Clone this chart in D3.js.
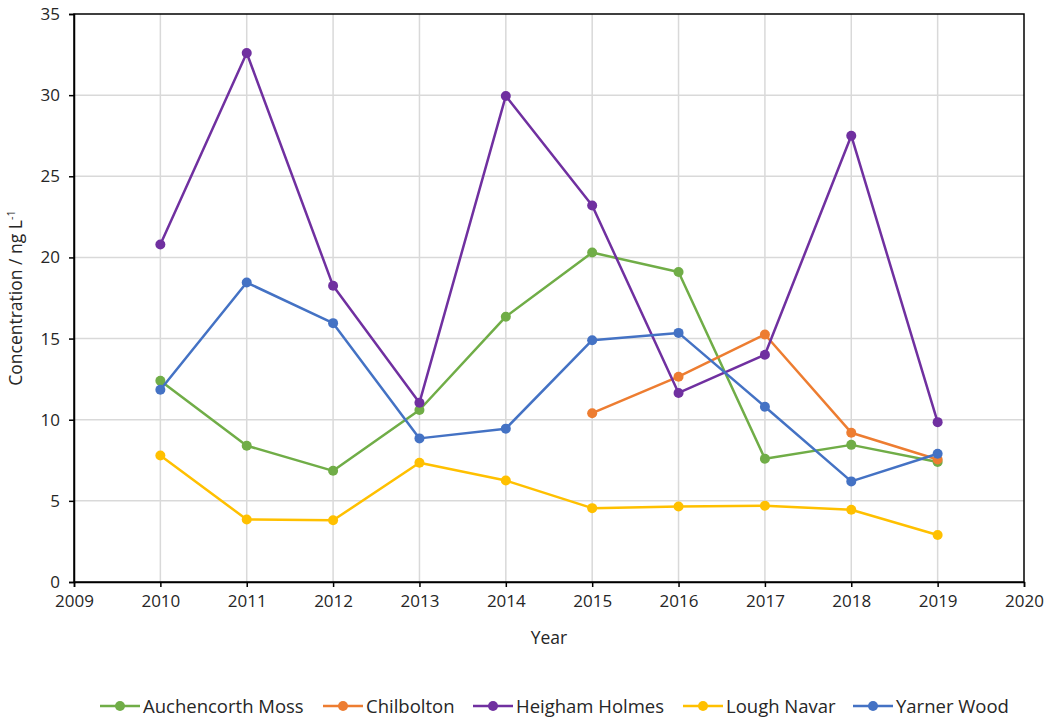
<!DOCTYPE html>
<html>
<head>
<meta charset="utf-8">
<script src="https://cdn.jsdelivr.net/npm/d3@7"></script>
<style>
  body { margin: 0; background: #fff; }
  text { font-family: "Open Sans", Lato, sans-serif; fill: #262626; }
</style>
</head>
<body>
<div id="graph"></div>
<script>
// data
const years = [2010, 2011, 2012, 2013, 2014, 2015, 2016, 2017, 2018, 2019];
const auchencorth = [12.4, 8.4, 6.85, 10.6, 16.35, 20.3, 19.1, 7.6, 8.45, 7.4];
const chilbolton = [null, null, null, null, null, 10.4, 12.65, 15.25, 9.2, 7.55];
const heigham = [20.8, 32.6, 18.25, 11.05, 29.95, 23.2, 11.65, 14.0, 27.5, 9.85];
const loughNavar = [7.8, 3.85, 3.8, 7.35, 6.25, 4.55, 4.65, 4.7, 4.45, 2.9];
const yarner = [11.85, 18.45, 15.95, 8.85, 9.45, 14.9, 15.35, 10.8, 6.2, 7.9];
const xTicks = [2009, 2010, 2011, 2012, 2013, 2014, 2015, 2016, 2017, 2018, 2019, 2020];
const yTicks = [0, 5, 10, 15, 20, 25, 30, 35];

const series = [
  {name: "Auchencorth Moss", values: auchencorth, color: "#70ad47"},
  {name: "Chilbolton", values: chilbolton, color: "#ed7d31"},
  {name: "Heigham Holmes", values: heigham, color: "#7030a0"},
  {name: "Lough Navar", values: loughNavar, color: "#ffc000"},
  {name: "Yarner Wood", values: yarner, color: "#4472c4"}
];

const margin = {top: 14, right: 27, bottom: 138, left: 74},
    width = 1051 - margin.left - margin.right,
    height = 720 - margin.top - margin.bottom;

const svg = d3.select("#graph")
  .append("svg")
    .attr("width", 1051)
    .attr("height", 720)
  .append("g")
    .attr("transform", `translate(${margin.left},${margin.top})`);

const x = d3.scaleLinear().domain([2009, 2020]).range([0, width]);
const y = d3.scaleLinear().domain([0, 35]).range([height, 0]);

// gridlines
svg.append("g")
  .selectAll("line.vg")
  .data(xTicks.slice(1, -1))
  .join("line")
    .attr("x1", d => x(d)).attr("x2", d => x(d))
    .attr("y1", 0).attr("y2", height)
    .attr("stroke", "#d9d9d9").attr("stroke-width", 1.5);
svg.append("g")
  .selectAll("line.hg")
  .data(yTicks.slice(1, -1))
  .join("line")
    .attr("x1", 0).attr("x2", width)
    .attr("y1", d => y(d)).attr("y2", d => y(d))
    .attr("stroke", "#d9d9d9").attr("stroke-width", 1.5);

// frame
svg.append("rect")
  .attr("width", width).attr("height", height)
  .attr("fill", "none").attr("stroke", "#000").attr("stroke-width", 1.5);

// axes
const xAxis = svg.append("g")
  .attr("transform", `translate(0,${height})`)
  .call(d3.axisBottom(x).tickValues(xTicks).tickFormat(d3.format("d")).tickSize(5).tickPadding(8));
const yAxis = svg.append("g")
  .call(d3.axisLeft(y).tickValues(yTicks).tickSize(5).tickPadding(9));
[xAxis, yAxis].forEach(a => {
  a.select(".domain").attr("stroke", "#000").attr("stroke-width", 1.5);
  a.selectAll(".tick line").attr("stroke", "#000").attr("stroke-width", 1.5);
  a.selectAll("text").style("font-size", "17px").attr("fill", "#262626");
});

// lines and markers
const line = d3.line()
  .defined(d => d.v !== null)
  .x(d => x(d.year))
  .y(d => y(d.v));

series.forEach(s => {
  const pts = years.map((yr, i) => ({year: yr, v: s.values[i]}));
  svg.append("path")
    .datum(pts)
    .attr("d", line)
    .attr("fill", "none")
    .attr("stroke", s.color)
    .attr("stroke-width", 2.5)
    .attr("stroke-linejoin", "round");
  svg.append("g")
    .selectAll("circle")
    .data(pts.filter(d => d.v !== null))
    .join("circle")
      .attr("cx", d => x(d.year))
      .attr("cy", d => y(d.v))
      .attr("r", 5)
      .attr("fill", s.color);
});

// axis titles
svg.append("text")
  .attr("x", width / 2)
  .attr("y", height + 62)
  .attr("text-anchor", "middle")
  .style("font-size", "17.5px")
  .text("Year");

const yl = svg.append("text")
  .attr("transform", `translate(-52,${height / 2}) rotate(-90)`)
  .attr("text-anchor", "middle")
  .style("font-size", "17.5px");
yl.append("tspan").text("Concentration / ng L");
yl.append("tspan").attr("dy", -7).style("font-size", "11px").text("-1");

// legend
const legendX = [100, 323, 473, 683, 853];
const legend = d3.select("svg").append("g").attr("transform", "translate(0,706)");
series.forEach((s, i) => {
  const g = legend.append("g").attr("transform", `translate(${legendX[i]},0)`);
  g.append("line").attr("x1", 0).attr("x2", 40).attr("y1", 0).attr("y2", 0)
    .attr("stroke", s.color).attr("stroke-width", 2.5);
  g.append("circle").attr("cx", 20).attr("cy", 0).attr("r", 5).attr("fill", s.color);
  g.append("text").attr("x", 43).attr("y", 6.5).style("font-size", "18.5px").text(s.name);
});
</script>
</body>
</html>
